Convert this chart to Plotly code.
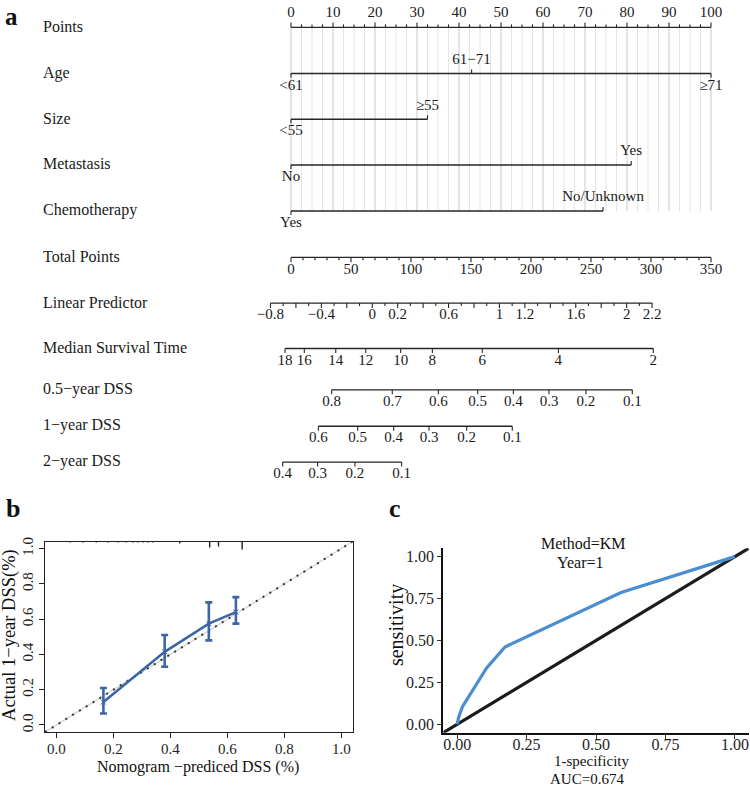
import plotly.graph_objects as go

FONT = "Liberation Serif"
W, H = 750, 787
INK = "#262626"

# ---------------- Panel a : nomogram data ----------------
row_labels = ["Points", "Age", "Size", "Metastasis", "Chemotherapy", "Total Points",
              "Linear Predictor", "Median Survival Time", "0.5−year DSS", "1−year DSS", "2−year DSS"]
points_ticks = list(range(0, 101, 10))

age_levels = ["<61", "61−71", "≥71"]
age_points = [0, 43, 100]
size_levels = ["<55", "≥55"]
size_points = [0, 32.5]
meta_levels = ["No", "Yes"]
meta_points = [0, 81]
chemo_levels = ["Yes", "No/Unknown"]
chemo_points = [0, 74.3]

total_ticks = [0, 50, 100, 150, 200, 250, 300, 350]
lp_ticks = [-0.8, -0.4, 0, 0.2, 0.6, 1, 1.2, 1.6, 2, 2.2]
lp_tp_at_zero = 67.7     # total points where LP = 0
lp_tp_per_unit = 106.0   # total points per LP unit

median_times = [18, 16, 14, 12, 10, 8, 6, 4, 2]
median_tp = [-5, 11.1, 37.3, 62.3, 91.4, 117.8, 159.4, 222.8, 301.9]
dss05_vals = [0.8, 0.7, 0.6, 0.5, 0.4, 0.3, 0.2, 0.1]
dss05_tp = [33.9, 84.4, 122.8, 155.6, 185.3, 215.0, 245.8, 284.4]
dss1_vals = [0.6, 0.5, 0.4, 0.3, 0.2, 0.1]
dss1_tp = [22.8, 55.6, 85.6, 115.0, 146.4, 184.4]
dss2_vals = [0.4, 0.3, 0.2, 0.1]
dss2_tp = [-6.9, 22.2, 53.3, 92.2]

# ---------------- Panel b : calibration data ----------------
cal_pred = [0.165, 0.38, 0.535, 0.63]
cal_obs = [0.13, 0.415, 0.575, 0.64]
cal_lo = [0.065, 0.33, 0.48, 0.575]
cal_hi = [0.21, 0.51, 0.695, 0.725]
rug_x = [0.047, 0.093, 0.14, 0.181, 0.216, 0.245, 0.269, 0.286, 0.304, 0.321, 0.339, 0.433, 0.538, 0.569, 0.652]
rug_len = [1, 1, 1, 1, 1, 1, 1, 1, 1, 1, 1, 2, 6, 5, 8]

# ---------------- Panel c : ROC data ----------------
roc_fpr = [0, 0.005, 0.019, 0.106, 0.172, 0.59, 1.0]
roc_tpr = [0, 0.04, 0.105, 0.336, 0.461, 0.786, 1.0]
auc_value = 0.674

# ---------------- layout helpers (positions, not data) ----------------
row_y = [22.5, 69, 115, 161, 207.3, 254, 300, 345.7, 387.3, 424, 460]
PX_PER_PT = 4.2
X0_PX = 291.0
xr0 = -X0_PX / PX_PER_PT
xr1 = xr0 + W / PX_PER_PT
BELOW, ABOVE = 12.5, -13.5
TP2PT = 100.0 / 350.0

def fmt(v):
    return f"{v:g}".replace("-", "−")

fig = go.Figure()

def seg_trace(xs, ys, color=INK, width=1.4, xa="x", ya="y"):
    fig.add_trace(go.Scatter(x=xs, y=ys, mode="lines", xaxis=xa, yaxis=ya,
                             line=dict(color=color, width=width),
                             hoverinfo="skip", showlegend=False))

def text_trace(xs, ys, texts, size=15):
    fig.add_trace(go.Scatter(x=xs, y=ys, mode="text", text=texts,
                             textposition="middle center",
                             textfont=dict(family=FONT, size=size, color="#1a1a1a"),
                             hoverinfo="skip", showlegend=False))

# grid
gx_min, gy_min = [], []
gx_maj, gy_maj = [], []
for i in range(0, 41):
    p = i * 2.5
    if i % 4 == 0:
        gx_maj += [p, p, None]; gy_maj += [row_y[0], row_y[4], None]
    else:
        gx_min += [p, p, None]; gy_min += [row_y[0], row_y[4], None]
seg_trace(gx_min, gy_min, color="#e4e4e4", width=1)
seg_trace(gx_maj, gy_maj, color="#c9c9c9", width=1)

# Points axis (ticks up, labels above)
y = row_y[0]
seg_trace([0, 100], [y, y])
tx, ty = [], []
for i in range(0, 41):
    p = i * 2.5
    h = 5 if i % 4 == 0 else 3
    tx += [p, p, None]; ty += [y, y - h, None]
seg_trace(tx, ty, width=1.1)
text_trace(points_ticks, [y + ABOVE - 1] * len(points_ticks), [fmt(v) for v in points_ticks])

# variable rows
for r, (levels, pts) in enumerate([(age_levels, age_points), (size_levels, size_points),
                                   (meta_levels, meta_points), (chemo_levels, chemo_points)], start=1):
    y = row_y[r]
    seg_trace([min(pts), max(pts)], [y, y])
    tx, ty, lx, ly = [], [], [], []
    for k, p in enumerate(pts):
        d = 4 if k % 2 == 0 else -4
        tx += [p, p, None]; ty += [y, y + d, None]
        lx.append(p); ly.append(y + (BELOW if k % 2 == 0 else ABOVE))
    seg_trace(tx, ty, width=1.1)
    text_trace(lx, ly, levels)

# Total points axis
y = row_y[5]
seg_trace([0, 350 * TP2PT], [y, y])
tx, ty = [], []
for v in range(0, 351, 10):
    h = 5 if v % 50 == 0 else 3
    tx += [v * TP2PT, v * TP2PT, None]; ty += [y, y + h, None]
seg_trace(tx, ty, width=1.1)
text_trace([v * TP2PT for v in total_ticks], [y + BELOW] * len(total_ticks), [fmt(v) for v in total_ticks])

# Linear predictor axis
y = row_y[6]
lp_to_pt = lambda v: (lp_tp_at_zero + lp_tp_per_unit * v) * TP2PT
seg_trace([lp_to_pt(min(lp_ticks)), lp_to_pt(max(lp_ticks))], [y, y])
tx, ty = [], []
n = int(round((max(lp_ticks) - min(lp_ticks)) / 0.1))
for i in range(n + 1):
    v = min(lp_ticks) + i * 0.1
    h = 5 if i % 2 == 0 else 3
    tx += [lp_to_pt(v), lp_to_pt(v), None]; ty += [y, y + h, None]
seg_trace(tx, ty, width=1.1)
text_trace([lp_to_pt(v) for v in lp_ticks], [y + BELOW] * len(lp_ticks), [fmt(v) for v in lp_ticks])

# nonlinear axes
for r, vals, tps in [(7, median_times, median_tp), (8, dss05_vals, dss05_tp),
                     (9, dss1_vals, dss1_tp), (10, dss2_vals, dss2_tp)]:
    y = row_y[r]
    xs = [t * TP2PT for t in tps]
    seg_trace([min(xs), max(xs)], [y, y])
    tx, ty = [], []
    for xv in xs:
        tx += [xv, xv, None]; ty += [y, y + 4.5, None]
    seg_trace(tx, ty, width=1.1)
    text_trace(xs, [y + BELOW] * len(xs), [fmt(v) for v in vals])

# ---------------- Panel b ----------------
fig.add_trace(go.Scatter(x=[-0.04, 1.04], y=[-0.04, 1.04], mode="lines", xaxis="x2", yaxis="y2",
                         line=dict(color="#d2d2d2", width=1.2), hoverinfo="skip", showlegend=False))
fig.add_trace(go.Scatter(x=[-0.04, 1.04], y=[-0.04, 1.04], mode="lines", xaxis="x2", yaxis="y2",
                         line=dict(color="#333333", width=2, dash="2px,6px"), hoverinfo="skip", showlegend=False))
rx, ry = [], []
for xv, ln in zip(rug_x, rug_len):
    rx += [xv, xv, None]; ry += [1.04, 1.04 - ln / 178.0, None]
seg_trace(rx, ry, color="#222222", width=1.4, xa="x2", ya="y2")
fig.add_trace(go.Scatter(
    x=cal_pred, y=cal_obs, mode="lines+markers", xaxis="x2", yaxis="y2",
    line=dict(color="#3C66A6", width=2.6),
    marker=dict(symbol="x-thin", size=5, color="#3C66A6", line=dict(width=1, color="#3C66A6")),
    error_y=dict(type="data", symmetric=False,
                 array=[h - o for h, o in zip(cal_hi, cal_obs)],
                 arrayminus=[o - l for o, l in zip(cal_obs, cal_lo)],
                 color="#3C66A6", thickness=2.6, width=3.5),
    hoverinfo="skip", showlegend=False))

# ---------------- Panel c ----------------
fig.add_trace(go.Scatter(x=[-0.05, 1.05], y=[-0.05, 1.05], mode="lines", xaxis="x3", yaxis="y3",
                         line=dict(color="#1c1c1c", width=3.2), hoverinfo="skip", showlegend=False))
fig.add_trace(go.Scatter(x=roc_fpr, y=roc_tpr, mode="lines", xaxis="x3", yaxis="y3",
                         line=dict(color="#4A8DD0", width=3.2), hoverinfo="skip", showlegend=False))

# ---------------- annotations ----------------
ann = []
for lab, y in zip(row_labels, row_y):
    ann.append(dict(text=lab, x=41 / W, xref="paper", xanchor="left", y=y - 1, yref="y",
                    yanchor="middle", showarrow=False, font=dict(family=FONT, size=16, color="#1a1a1a")))

def pann(text, px, py, size, bold=False, angle=0, xanchor="center", yanchor="middle"):
    ann.append(dict(text=f"<b>{text}</b>" if bold else text, x=px / W, y=1 - py / H,
                    xref="paper", yref="paper", xanchor=xanchor, yanchor=yanchor,
                    textangle=angle, showarrow=False, font=dict(family=FONT, size=size, color="#111")))

pann("a", 11, 12, 25, bold=True)
pann("b", 13, 507, 26, bold=True)
pann("c", 395, 507, 26, bold=True)
pann("Actual 1−year DSS(%)", 10, 634, 18.5, angle=-90)
pann("Nomogram −prediced DSS (%)", 198, 767, 16)
pann("Method=KM", 583, 542, 16)
pann("Year=1", 580, 561, 16)
pann("sensitivity", 396, 624, 20, angle=-90)
pann("1-specificity", 591, 761, 15)
pann(f"AUC={auc_value:.3f}", 587, 778.5, 15)

tickfont_b = dict(family=FONT, size=15, color="#1e1e1e")
tickfont_c = dict(family=FONT, size=16, color="#1e1e1e")
fig.update_layout(
    width=W, height=H, autosize=False,
    margin=dict(l=0, r=0, t=0, b=0),
    paper_bgcolor="white", plot_bgcolor="rgba(0,0,0,0)",
    showlegend=False,
    annotations=ann,
    xaxis=dict(domain=[0, 1], range=[xr0, xr1], visible=False, fixedrange=True),
    yaxis=dict(domain=[0, 1], range=[H, 0], visible=False, fixedrange=True),
    xaxis2=dict(domain=[45 / W, 352.7 / W], range=[-0.04, 1.04], anchor="y2",
                tickvals=[0, 0.2, 0.4, 0.6, 0.8, 1.0], tickformat=".1f",
                showline=True, mirror=True, linecolor="#222", linewidth=1.3,
                ticks="outside", ticklen=5, tickwidth=1.2, tickcolor="#222",
                ticklabelstandoff=-2,
                showgrid=False, zeroline=False, tickfont=tickfont_b),
    yaxis2=dict(domain=[1 - 731.7 / H, 1 - 540 / H], range=[-0.04, 1.04], anchor="x2",
                tickvals=[0, 0.2, 0.4, 0.6, 0.8, 1.0], tickformat=".1f", tickangle=-90,
                showline=True, mirror=True, linecolor="#222", linewidth=1.3,
                ticks="outside", ticklen=5, tickwidth=1.2, tickcolor="#222",
                showgrid=False, zeroline=False, tickfont=tickfont_b),
    xaxis3=dict(domain=[443.3 / W, 748.8 / W], range=[-0.05, 1.05], anchor="y3",
                tickvals=[0, 0.25, 0.5, 0.75, 1.0], tickformat=".2f",
                showline=True, linecolor="#111", linewidth=2.2,
                ticks="outside", ticklen=4, tickwidth=1.2, tickcolor="#333",
                ticklabelstandoff=-8,
                showgrid=False, zeroline=False, tickfont=tickfont_c),
    yaxis3=dict(domain=[1 - 732.3 / H, 1 - 546.7 / H], range=[-0.05, 1.05], anchor="x3",
                tickvals=[0, 0.25, 0.5, 0.75, 1.0], tickformat=".2f",
                showline=True, linecolor="#111", linewidth=2.2,
                ticks="outside", ticklen=4, tickwidth=1.2, tickcolor="#333",
                showgrid=False, zeroline=False, tickfont=tickfont_c),
)

fig.write_html("out.html", config={"displayModeBar": False},
               post_script="document.body.style.margin='0px'; document.body.style.overflow='hidden';")
